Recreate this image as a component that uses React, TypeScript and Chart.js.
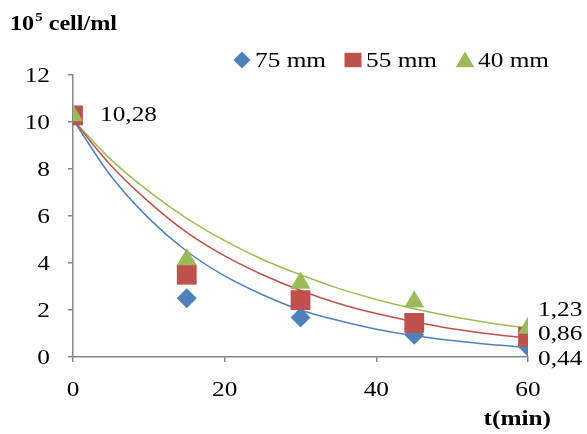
import React, { useEffect, useRef } from "react";
import { Chart, registerables } from "chart.js";

Chart.register(...registerables);

const times = [0, 15, 30, 45, 60];
const mm75 = [10.28, 2.5, 1.68, 0.95, 0.44];
const mm55 = [10.28, 3.5, 2.42, 1.45, 0.86];
const mm40 = [10.28, 4.15, 3.15, 2.35, 1.23];

const trendTimes = [0, 5, 10, 15, 20, 25, 30, 35, 40, 45, 50, 55, 60];
const trend75 = [10.1, 7.7, 5.9, 4.5, 3.45, 2.65, 2.0, 1.55, 1.18, 0.9, 0.7, 0.53, 0.41];
const trend55 = [10.1, 8.15, 6.6, 5.3, 4.3, 3.5, 2.83, 2.28, 1.85, 1.5, 1.2, 0.98, 0.8];
const trend40 = [10.1, 8.4, 7.05, 5.9, 4.95, 4.15, 3.5, 2.92, 2.45, 2.05, 1.72, 1.45, 1.22];

const xTickValues = [0, 20, 40, 60];
const yTickValues = [0, 2, 4, 6, 8, 10, 12];
const seriesNames = ["75 mm", "55 mm", "40 mm"];
const startLabel = "10,28";
const endLabels = ["0,44", "0,86", "1,23"];
const endValues = [0.44, 0.86, 1.23];
const yAxisTitle = ["10", "5", " cell/ml"];
const xAxisTitle = "t(min)";

const BLUE = "#4F81BD";
const RED = "#C0504D";
const GREEN = "#9BBB59";
const AXIS = "#868686";
const SERIF = "'Liberation Serif', 'Times New Roman', serif";
const S = 1.15; // horizontal text stretch of the reference

const toXY = (xs: number[], ys: number[]) => xs.map((x, i) => ({ x, y: ys[i] }));

function stretchText(ctx: CanvasRenderingContext2D, text: string, x: number, y: number, align: string, font: string) {
  ctx.save();
  ctx.font = font;
  ctx.textAlign = "left";
  ctx.textBaseline = "middle";
  const w = ctx.measureText(text).width * S;
  let left = x;
  if (align === "right") left = x - w;
  else if (align === "center") left = x - w / 2;
  ctx.translate(left, y);
  ctx.scale(S, 1);
  ctx.fillText(text, 0, 0);
  ctx.restore();
  return w;
}

function marker(ctx: CanvasRenderingContext2D, kind: string, x: number, y: number, s: number, color: string) {
  ctx.save();
  ctx.fillStyle = color;
  ctx.beginPath();
  if (kind === "diamond") {
    ctx.moveTo(x, y - s);
    ctx.lineTo(x + s, y);
    ctx.lineTo(x, y + s);
    ctx.lineTo(x - s, y);
  } else if (kind === "square") {
    ctx.rect(x - s, y - s * 0.85, 2 * s, 1.7 * s);
  } else {
    ctx.moveTo(x, y - s);
    ctx.lineTo(x + s * 1.1, y + s * 0.85);
    ctx.lineTo(x - s * 1.1, y + s * 0.85);
  }
  ctx.closePath();
  ctx.fill();
  ctx.restore();
}

const textPlugin = {
  id: "texts",
  afterDraw(chart: any) {
    const ctx: CanvasRenderingContext2D = chart.ctx;
    const xs = chart.scales.x;
    const ys = chart.scales.y;
    ctx.save();
    ctx.fillStyle = "#000";
    const normal = `22px ${SERIF}`;

    // tick labels
    yTickValues.forEach((v) => {
      stretchText(ctx, String(v), 50, ys.getPixelForValue(v) + 1, "right", normal);
    });
    xTickValues.forEach((v) => {
      stretchText(ctx, String(v), xs.getPixelForValue(v), 390, "center", normal);
    });

    // y axis title
    let x = 10;
    x += stretchText(ctx, yAxisTitle[0], x, 25, "left", `bold 21px ${SERIF}`);
    x += stretchText(ctx, yAxisTitle[1], x + 1, 18, "left", `bold 13px ${SERIF}`) + 1;
    stretchText(ctx, yAxisTitle[2], x, 25, "left", `bold 21px ${SERIF}`);

    // x axis title
    stretchText(ctx, xAxisTitle, 551, 419, "right", `bold 22px ${SERIF}`);

    // legend
    const kinds = ["diamond", "square", "triangle"];
    const colors = [BLUE, RED, GREEN];
    const lx = [242, 353, 465];
    kinds.forEach((k, i) => {
      marker(ctx, k, lx[i], 60, 8.5, colors[i]);
      stretchText(ctx, seriesNames[i], lx[i] + 13, 61, "left", normal);
    });

    // data labels
    stretchText(ctx, startLabel, 100, ys.getPixelForValue(10.28), "left", normal);
    const offsets = [13, -3, -18];
    endLabels.forEach((t, i) => {
      stretchText(ctx, t, xs.getPixelForValue(60) + 10, ys.getPixelForValue(endValues[i]) + offsets[i], "left", normal);
    });
    ctx.restore();
  },
};

export default function App() {
  const ref = useRef<HTMLCanvasElement | null>(null);
  useEffect(() => {
    if (!ref.current) return;
    const trendDs = (data: number[], color: string) => ({
      type: "line" as const,
      data: toXY(trendTimes, data),
      borderColor: color,
      borderWidth: 1.5,
      pointRadius: 0,
      showLine: true,
      fill: false,
      cubicInterpolationMode: "monotone" as const,
      order: 10,
    });
    const chart = new Chart(ref.current, {
      type: "scatter",
      data: {
        datasets: [
          trendDs(trend75, BLUE),
          trendDs(trend55, RED),
          trendDs(trend40, GREEN),
          { type: "scatter", data: toXY(times, mm75), pointStyle: "rectRot", pointRadius: 10, backgroundColor: BLUE, borderWidth: 0, order: 3 },
          { type: "scatter", data: toXY(times, mm55), pointStyle: "rect", pointRadius: 14, backgroundColor: RED, borderWidth: 0, order: 2 },
          { type: "scatter", data: toXY(times, mm40), pointStyle: "triangle", pointRadius: 11.5, backgroundColor: GREEN, borderWidth: 0, order: 1 },
        ] as any,
      },
      options: {
        animation: false,
        responsive: false,
        maintainAspectRatio: false,
        layout: { padding: { left: 0, top: 75, right: 59, bottom: 37 } },
        plugins: { legend: { display: false }, tooltip: { enabled: false } },
        scales: {
          x: {
            type: "linear",
            min: 0,
            max: 60,
            ticks: { stepSize: 20, color: "rgba(0,0,0,0)", font: { family: SERIF, size: 22 }, padding: 8 },
            grid: { display: true, drawOnChartArea: false, drawTicks: true, tickLength: 5, color: AXIS, lineWidth: 1.5 },
            border: { color: AXIS, width: 1.5 },
            afterFit: (s: any) => { s.height = 40; },
          },
          y: {
            type: "linear",
            min: 0,
            max: 12,
            ticks: { stepSize: 2, color: "rgba(0,0,0,0)", font: { family: SERIF, size: 22 }, padding: 18 },
            grid: { display: true, drawOnChartArea: false, drawTicks: true, tickLength: 5, color: AXIS, lineWidth: 1.5 },
            border: { color: AXIS, width: 1.5 },
            afterFit: (s: any) => { s.width = 73; },
          },
        },
      },
      plugins: [textPlugin],
    });
    return () => chart.destroy();
  }, []);
  return (
    <div style={{ position: "fixed", left: 0, top: 0, width: 587, height: 434, background: "#fff" }}>
      <canvas ref={ref} width={587} height={434} style={{ width: 587, height: 434 }} />
    </div>
  );
}
